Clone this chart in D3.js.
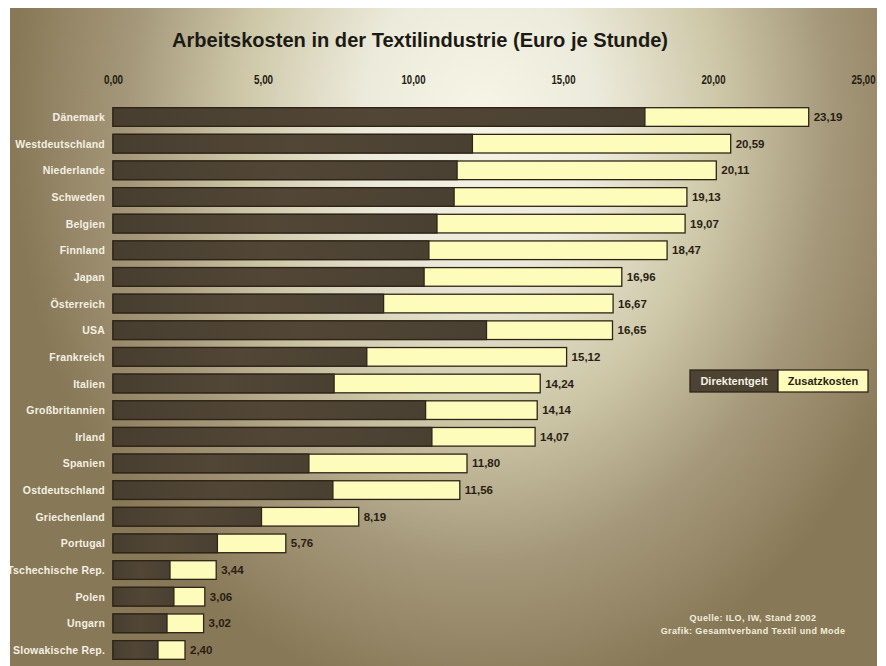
<!DOCTYPE html>
<html><head><meta charset="utf-8">
<script src="https://cdn.jsdelivr.net/npm/d3@7/dist/d3.min.js"></script>
<style>body{margin:0;background:#fff}svg{display:block}</style>
</head><body>
<svg id="chart" width="886" height="666"></svg>
<script>
const categories = ["Dänemark","Westdeutschland","Niederlande","Schweden","Belgien","Finnland","Japan","Österreich","USA","Frankreich","Italien","Großbritannien","Irland","Spanien","Ostdeutschland","Griechenland","Portugal","Tschechische Rep.","Polen","Ungarn","Slowakische Rep."];
const totals = [23.19,20.59,20.11,19.13,19.07,18.47,16.96,16.67,16.65,15.12,14.24,14.14,14.07,11.80,11.56,8.19,5.76,3.44,3.06,3.02,2.40];
const direkt = [17.73,11.98,11.47,11.37,10.80,10.53,10.37,9.02,12.45,8.46,7.37,10.42,10.63,6.53,7.33,4.95,3.48,1.90,2.03,1.80,1.50];
const tickValues = [0,5,10,15,20,25];
const seriesNames = ["Direktentgelt","Zusatzkosten"];
const title = "Arbeitskosten in der Textilindustrie (Euro je Stunde)";
const sourceLines = ["Quelle: ILO, IW, Stand 2002","Grafik: Gesamtverband Textil und Mode"];

const svg = d3.select("#chart");
const defs = svg.append("defs");
const rg = defs.append("radialGradient").attr("id","bg")
  .attr("gradientUnits","userSpaceOnUse").attr("cx",480).attr("cy",120).attr("r",470)
  .attr("gradientTransform","translate(480,120) scale(1,1.25) translate(-480,-120)");
[[0,"#f6f5e6"],[0.25,"#eceadb"],[0.5,"#cfc9aa"],[0.75,"#a5987a"],[1,"#877857"]].forEach(([o,c])=>
  rg.append("stop").attr("offset",o).attr("stop-color",c));
const dg = defs.append("linearGradient").attr("id","dark").attr("x1",0).attr("x2",1).attr("y1",0).attr("y2",0);
[[0,"#483e30"],[0.5,"#524736"],[1,"#4a4032"]].forEach(([o,c])=>dg.append("stop").attr("offset",o).attr("stop-color",c));
defs.append("clipPath").attr("id","panelClip").append("rect").attr("x",10).attr("y",8).attr("width",867).attr("height",658);

svg.append("rect").attr("x",10).attr("y",8).attr("width",867).attr("height",658).attr("fill","url(#bg)");
const g = svg.append("g").attr("clip-path","url(#panelClip)");

g.append("text").attr("x",420).attr("y",47).attr("text-anchor","middle")
  .attr("font-family","'Liberation Sans',Arial,sans-serif").attr("font-weight","bold")
  .attr("font-size",21).attr("textLength",496).attr("lengthAdjust","spacingAndGlyphs")
  .attr("fill","#1c1a14").text(title);

const x = d3.scaleLinear().domain([0,25]).range([113,863]);
const y = d3.scaleBand().domain(categories).range([103.7,663.3]).paddingInner(0.3).paddingOuter(0.15);

const fmt = d=>d3.format(".2f")(d).replace(".",",");
const ax = g.append("g").attr("transform","translate(0,84)")
  .call(d3.axisTop(x).tickValues(tickValues).tickSize(0).tickPadding(0).tickFormat(fmt));
ax.select(".domain").remove();
ax.selectAll("text").attr("font-family","'Liberation Sans',Arial,sans-serif")
  .attr("font-weight","bold").attr("font-size",12)
  .attr("textLength",d=>fmt(d).length*4.8).attr("lengthAdjust","spacingAndGlyphs")
  .attr("fill","#241c10");

const rows = categories.map((c,i)=>({c, total: totals[i], d: direkt[i]}));
const bars = g.append("g");
bars.selectAll("rect.z").data(rows).join("rect").attr("class","z")
  .attr("x",r=>x(0)).attr("y",r=>y(r.c)).attr("width",r=>x(r.total)-x(0)).attr("height",y.bandwidth())
  .attr("fill","#fefcbb").attr("stroke","#2e2418").attr("stroke-width",1.3);
bars.selectAll("rect.d").data(rows).join("rect").attr("class","d")
  .attr("x",r=>x(0)).attr("y",r=>y(r.c)).attr("width",r=>x(r.d)-x(0)).attr("height",y.bandwidth())
  .attr("fill","url(#dark)").attr("stroke","#2e2418").attr("stroke-width",1.3);

g.append("g").selectAll("text").data(rows).join("text")
  .attr("x",105).attr("y",r=>y(r.c)+y.bandwidth()/2+4).attr("text-anchor","end")
  .attr("font-family","'Liberation Sans',Arial,sans-serif").attr("font-weight","bold")
  .attr("font-size",10.5).attr("letter-spacing",0.2).attr("fill","#f4f0e2").text(r=>r.c);

g.append("g").selectAll("text").data(rows).join("text")
  .attr("x",r=>x(r.total)+5).attr("y",r=>y(r.c)+y.bandwidth()/2+4)
  .attr("font-family","'Liberation Sans',Arial,sans-serif").attr("font-weight","bold")
  .attr("font-size",11.5).attr("fill","#2a1e12").text(r=>fmt(r.total));

// legend
const lg = g.append("g");
lg.append("rect").attr("x",690).attr("y",370).attr("width",88).attr("height",22).attr("fill","#4d4333").attr("stroke","#2e2418").attr("stroke-width",1.3);
lg.append("rect").attr("x",778).attr("y",370).attr("width",90).attr("height",22).attr("fill","#fefcbb").attr("stroke","#2e2418").attr("stroke-width",1.3);
lg.append("text").attr("x",734).attr("y",385).attr("text-anchor","middle")
  .attr("font-family","'Liberation Sans',Arial,sans-serif").attr("font-weight","bold").attr("font-size",11)
  .attr("fill","#f4f0e2").text(seriesNames[0]);
lg.append("text").attr("x",823).attr("y",385).attr("text-anchor","middle")
  .attr("font-family","'Liberation Sans',Arial,sans-serif").attr("font-weight","bold").attr("font-size",11)
  .attr("fill","#2a1e12").text(seriesNames[1]);

g.append("g").selectAll("text").data(sourceLines).join("text")
  .attr("x",753).attr("y",(d,i)=>621+i*13).attr("text-anchor","middle")
  .attr("font-family","'Liberation Sans',Arial,sans-serif").attr("font-weight","bold").attr("font-size",9)
  .attr("letter-spacing",0.4).attr("fill","#f2eedc").text(d=>d);
</script>
</body></html>
